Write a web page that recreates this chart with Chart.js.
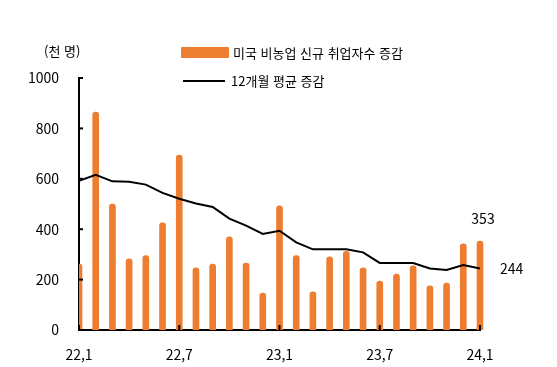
<!DOCTYPE html>
<html lang="ko">
<head>
<meta charset="UTF-8">
<title>미국 비농업 신규 취업자수</title>
<style>
    body { margin: 0; background: #fff; }
    .wrap { position: relative; width: 557px; height: 367px; font-family: "Noto Sans CJK KR", sans-serif; }
    canvas { position: absolute; left: 0; top: 0; }
    .unidade { position: absolute; left: 44px; top: 41px; font-size: 13px; color: #000; }
    .legenda { position: absolute; left: 181px; font-size: 13px; color: #000; display: flex; align-items: center; }
    .caixa { width: 48px; height: 11px; background: #ED7D31; margin-right: 4px; border-radius: 1px; }
    .linha { width: 42px; height: 2px; background: #000; margin: 0 6px 0 2px; }
</style>
</head>
<body>
<div class="wrap">
    <canvas id="grafico" width="557" height="367"></canvas>
    <div class="unidade">(천 명)</div>
    <div class="legenda" style="top:43px;"><div class="caixa"></div>미국 비농업 신규 취업자수 증감</div>
    <div class="legenda" style="top:71px;"><div class="linha"></div>12개월 평균 증감</div>
</div>
<script src="https://cdn.jsdelivr.net/npm/chart.js"></script>
<script>
    // meses de 22.1 a 24.1
    const meses = ['22,1','22,2','22,3','22,4','22,5','22,6','22,7','22,8','22,9','22,10','22,11','22,12',
                   '23,1','23,2','23,3','23,4','23,5','23,6','23,7','23,8','23,9','23,10','23,11','23,12','24,1'];
    const rotulosX = ['22,1', '22,7', '23,1', '23,7', '24,1'];
    const empregos = [262, 865, 500, 282, 295, 425, 694, 247, 262, 370, 266, 147,
                      493, 295, 151, 290, 312, 247, 194, 222, 255, 175, 186, 342, 353];
    const media12 = [592, 616, 590, 588, 577, 544, 521, 502, 488, 442, 414, 381,
                     394, 348, 320, 320, 320, 308, 266, 266, 266, 244, 238, 258, 244];
    const ticksY = [0, 200, 400, 600, 800, 1000];

    // marcas dos eixos para dentro + rótulos finais
    const marcas = {
        id: 'marcas',
        afterDraw(chart) {
            const c = chart.ctx, x = chart.scales.x, y = chart.scales.y;
            c.save();
            c.strokeStyle = '#000';
            c.lineWidth = 2;
            ticksY.forEach(v => {
                const py = y.getPixelForValue(v);
                c.beginPath(); c.moveTo(x.left, py); c.lineTo(x.left + 4, py); c.stroke();
            });
            rotulosX.forEach(r => {
                const px = x.getPixelForValue(meses.indexOf(r));
                c.beginPath(); c.moveTo(px, y.bottom); c.lineTo(px, y.bottom - 5); c.stroke();
            });
            c.fillStyle = '#000';
            c.font = '14px "Noto Sans CJK KR", sans-serif';
            c.textAlign = 'center';
            c.textBaseline = 'middle';
            const ult = meses.length - 1;
            c.fillText(String(empregos[ult]), x.getPixelForValue(ult) + 3, y.getPixelForValue(empregos[ult]) - 22);
            c.textAlign = 'left';
            c.fillText(String(media12[ult]), x.getPixelForValue(ult) + 20, y.getPixelForValue(media12[ult]));
            c.restore();
        }
    };

    new Chart(document.getElementById('grafico'), {
        data: {
            labels: meses,
            datasets: [{
                type: 'line',
                label: '12개월 평균 증감',
                data: media12,
                borderColor: '#000',
                borderWidth: 2,
                pointRadius: 0,
                tension: 0,
                order: 0
            }, {
                type: 'bar',
                label: '미국 비농업 신규 취업자수 증감',
                data: empregos,
                backgroundColor: '#ED7D31',
                barThickness: 6,
                borderRadius: { topLeft: 3, topRight: 3 },
                borderSkipped: 'bottom',
                clip: { left: 0, top: 20, right: 10, bottom: 0 },
                order: 1
            }]
        },
        options: {
            responsive: false,
            animation: false,
            layout: { padding: { top: 78, right: 77, left: 0, bottom: 0 } },
            plugins: { legend: { display: false }, tooltip: { enabled: false } },
            scales: {
                x: {
                    offset: false,
                    grid: { display: false },
                    border: { display: true, color: '#000', width: 2 },
                    ticks: {
                        autoSkip: false,
                        maxRotation: 0,
                        padding: 8,
                        color: '#000',
                        font: { size: 14, family: '"Noto Sans CJK KR", sans-serif' },
                        callback: function (v, i) {
                            const r = meses[i];
                            return rotulosX.includes(r) ? r : '';
                        }
                    },
                    afterFit: function (s) { s.height = 37; }
                },
                y: {
                    min: 0,
                    max: 1000,
                    grid: { display: false },
                    border: { display: true, color: '#000', width: 2 },
                    ticks: {
                        stepSize: 200,
                        padding: 12,
                        color: '#000',
                        font: { size: 14, family: '"Noto Sans CJK KR", sans-serif' },
                        callback: function (v) { return String(v); }
                    },
                    afterFit: function (s) { s.width = 79; }
                }
            }
        },
        plugins: [marcas]
    });
</script>
</body>
</html>
